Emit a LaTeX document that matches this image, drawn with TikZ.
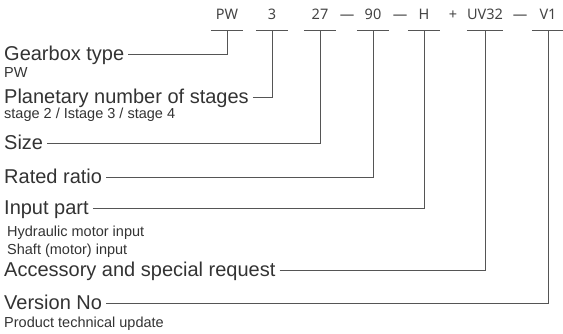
\documentclass[tikz,border=0pt]{standalone}
\usepackage{fontspec}
\setmainfont{Liberation Sans}
\newfontfamily\codefont{Noto Sans}
\usetikzlibrary{positioning}
\definecolor{textgray}{HTML}{333333}
\definecolor{codegray}{HTML}{444444}
\definecolor{linegray}{HTML}{555555}

\begin{document}
\begin{tikzpicture}[x=1pt, y=-1pt,
  lbl/.style={anchor=base west, font=\fontsize{20}{24}\selectfont, text=textgray,
    inner xsep=4pt, inner ysep=0pt, text height=15pt, text depth=4pt},
  note/.style={anchor=base west, font=\fontsize{14.5}{17}\selectfont, text=textgray, inner sep=0pt},
  code/.style={anchor=base, font=\codefont\fontsize{14.5}{17}\selectfont, text=codegray,
    minimum width=32pt, inner sep=0pt, text height=10pt, text depth=11pt},
  sep/.style={anchor=base, font=\codefont\fontsize{14.5}{17}\selectfont, text=codegray, inner sep=0pt},
  conn/.style={draw=linegray, line width=0.8pt}]
  \useasboundingbox (0,0) rectangle (563,333);

  % type code along the top
  \foreach \n/\x/\t in {pw/227/PW, stages/272/3, size/320/27, ratio/373/90,
                        input/424/H, acc/485/UV32, ver/548/V1}{
    \node[code] (\n) at (\x,19) {\t};
    \draw[conn] (\n.south west) -- (\n.south east);
  }
  \node[sep] (d1) at (347,19) {—};
  \node[sep] (d2) at (400,19) {—};
  \node[sep] (plus) at (453,19) {+};
  \node[sep] (d3) at (520,19) {—};

  % labels on the left
  \node[lbl] (gear) at (0,60) {Gearbox type};
  \node[note] (gearn) at (4,77) {PW};
  \node[lbl] (planet) at (0,103) {Planetary number of stages};
  \node[note] (planetn) at (4,118) {stage 2 / Istage 3 / stage 4};
  \node[lbl] (sz) at (0,149) {Size};
  \node[lbl] (rated) at (0,183) {Rated ratio};
  \node[lbl] (inpart) at (0,214) {Input part};
  \node[note] (inpartn1) at (7,236) {Hydraulic motor input};
  \node[note] (inpartn2) at (7,254) {Shaft (motor) input};
  \node[lbl] (access) at (0,276) {Accessory and special request};
  \node[lbl] (version) at (0,309) {Version No};
  \node[note] (versionn) at (4,327) {Product technical update};

  % connectors
  \draw[conn] (gear.east) -| (pw.south);
  \draw[conn] (planet.east) -| (stages.south);
  \draw[conn] (sz.east) -| (size.south);
  \draw[conn] (rated.east) -| (ratio.south);
  \draw[conn] (inpart.east) -| (input.south);
  \draw[conn] (access.east) -| (acc.south);
  \draw[conn] (version.east) -| (ver.south);
\end{tikzpicture}
\end{document}
